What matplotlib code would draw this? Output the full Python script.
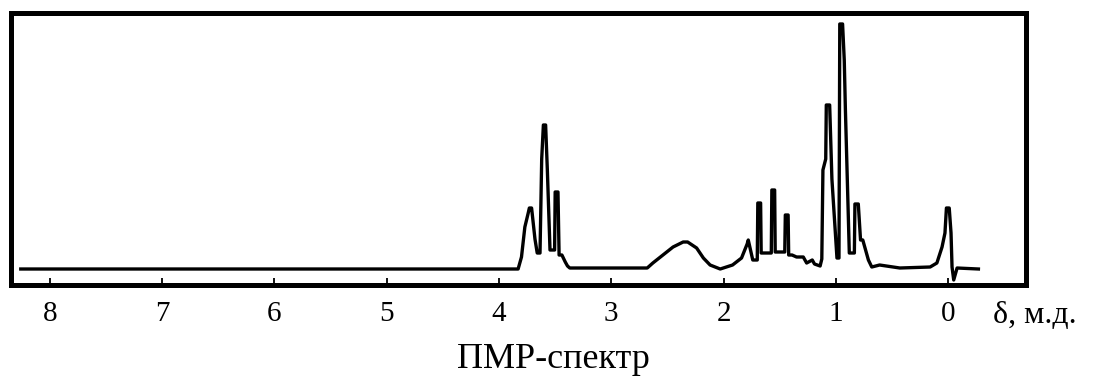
import matplotlib
matplotlib.use("Agg")
import matplotlib.pyplot as plt

plt.rcParams['font.family'] = ['Liberation Serif', 'DejaVu Serif']

# chemical shift (ppm) and intensity
shift = [8.26, 3.83, 3.80, 3.77, 3.74, 3.73, 3.71, 3.68, 3.66, 3.635,
         3.62, 3.605, 3.585, 3.57, 3.546, 3.505, 3.50, 3.475, 3.465, 3.44,
         3.41, 3.39, 3.37, 2.68, 2.63, 2.54, 2.45, 2.36, 2.32, 2.24,
         2.18, 2.12, 2.03, 1.92, 1.84, 1.79, 1.78, 1.74, 1.70, 1.695,
         1.67, 1.665, 1.61, 1.575, 1.57, 1.545, 1.54, 1.50, 1.455, 1.45,
         1.425, 1.42, 1.39, 1.35, 1.29, 1.26, 1.21, 1.19, 1.14, 1.125,
         1.115, 1.09, 1.085, 1.055, 1.035, 0.99, 0.972, 0.965, 0.94, 0.925,
         0.915, 0.88, 0.835, 0.83, 0.80, 0.78, 0.76, 0.71, 0.68, 0.61,
         0.43, 0.16, 0.10, 0.054, 0.028, 0.015, -0.01, -0.026, -0.035, -0.05,
         -0.08, -0.27]
intensity = [0, 0, 12, 42, 56, 61, 61, 30, 16, 16,
             110, 144, 144, 100, 19, 19, 77, 77, 14, 14,
             7, 3, 1, 1, 6, 14, 22, 27, 27, 21,
             11, 4, 0, 4, 11, 25, 29, 9, 9, 66,
             66, 16, 16, 16, 79, 79, 17, 17, 17, 54,
             54, 14, 14, 12, 12, 6, 9, 5, 3, 10,
             99, 110, 164, 164, 90, 11, 11, 245, 245, 209,
             160, 16, 16, 65, 65, 29, 29, 9, 2, 4,
             1, 2, 6, 22, 36, 61, 61, 36, 2, -11,
             1, 0]

tick_values = [8, 7, 6, 5, 4, 3, 2, 1, 0]
tick_labels = ["8", "7", "6", "5", "4", "3", "2", "1", "0"]

fig = plt.figure(figsize=(10.96, 3.79), dpi=100)
ax = fig.add_axes([0.01004, 0.2488, 0.9257, 0.7156])

ax.plot(shift, intensity, color='black', linewidth=2.4, solid_joinstyle='round')

ax.set_xlim(8.347, -0.690)
ax.set_ylim(-15.7, 255.5)
ax.set_xticks(tick_values)
ax.set_xticklabels(tick_labels)
ax.set_yticks([])
ax.tick_params(axis='x', direction='in', length=5, width=1.3, pad=12,
               labelsize=21, color='black')
for spine in ax.spines.values():
    spine.set_linewidth(3.6)
    spine.set_color('black')

fig.text(993 / 1096, 1 - 323 / 379, "δ, м.д.", fontsize=23,
         ha='left', va='baseline')
fig.text(553 / 1096, 1 - 368 / 379, "ПМР-спектр", fontsize=26,
         ha='center', va='baseline')

fig.savefig("out.png", dpi=100)
